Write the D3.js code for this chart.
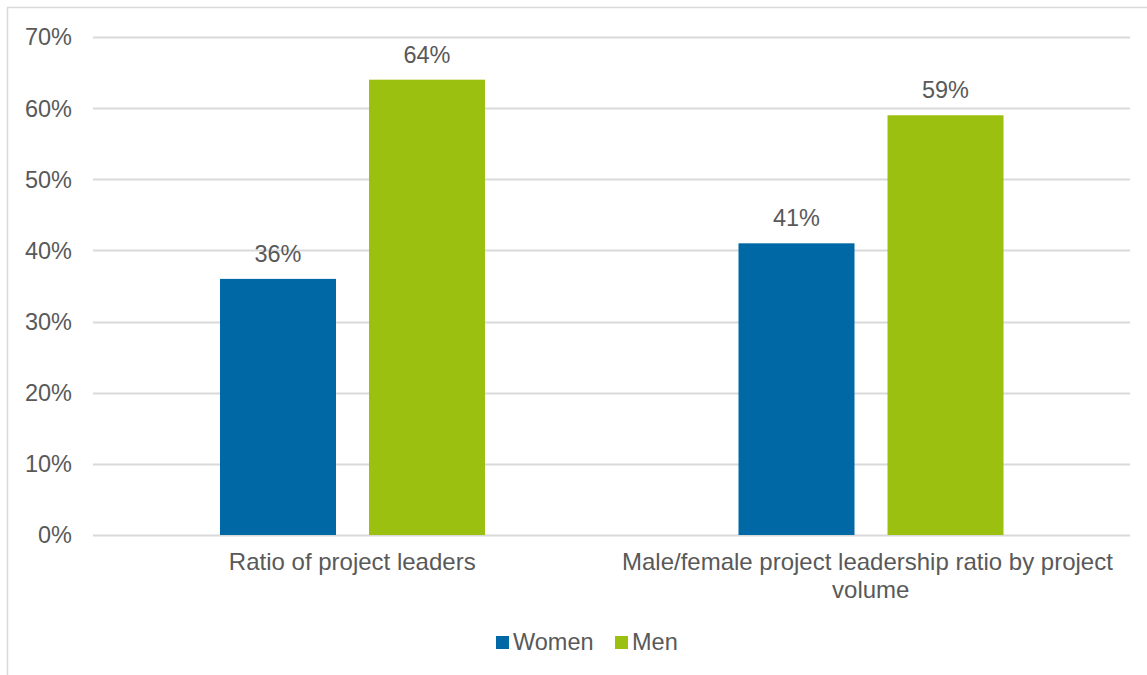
<!DOCTYPE html>
<html><head><meta charset="utf-8">
<script src="https://cdn.jsdelivr.net/npm/d3@7"></script>
<style>body{margin:0;background:#fff;} text{font-family:"Liberation Sans",Arial,sans-serif;fill:#595959;white-space:pre;}</style>
</head><body>
<svg id="c" width="1147" height="675"></svg>
<script>
const categories = ["Ratio of project leaders", "Male/female project leadership ratio by project volume"];
const categoryLines = [["Ratio of project leaders"], ["Male/female project leadership ratio by project ", "volume"]];
const series = ["Women", "Men"];
const women = [0.36, 0.41];
const men = [0.64, 0.59];
const yTicks = [0, 0.1, 0.2, 0.3, 0.4, 0.5, 0.6, 0.7];
const colors = ["#0069A5", "#9BC00F"];

(function () {
const svg = d3.select("#c");
const fs = 23.5;
svg.append("rect").attr("x",7.5).attr("y",7.5).attr("width",1160).attr("height",700)
  .attr("fill","none").attr("stroke","#D9D9D9").attr("stroke-width",1.5);

const pLeft = 93, pRight = 1130, pTop = 37, pBottom = 535;
const y = d3.scaleLinear().domain([0, 0.7]).range([pBottom, pTop]);
const x0 = d3.scaleBand().domain(categories).range([pLeft, pRight]).padding(0);
const x1 = d3.scaleBand().domain(series).range([127, 127+265]).paddingInner(0.2215).paddingOuter(0);

svg.append("g").selectAll("line").data(yTicks).join("line")
  .attr("x1", pLeft).attr("x2", pRight)
  .attr("y1", d => Math.round(y(d)) + 0.5).attr("y2", d => Math.round(y(d)) + 0.5)
  .attr("stroke", "#D9D9D9").attr("stroke-width", 2);

svg.append("g").selectAll("text").data(yTicks).join("text")
  .attr("x", 72).attr("y", d => y(d)).attr("dy", "0.36em")
  .attr("text-anchor", "end").attr("font-size", fs)
  .text(d => d3.format(".0%")(d));

const data = [];
categories.forEach((c, i) => {
  data.push({cat: c, s: "Women", v: women[i]});
  data.push({cat: c, s: "Men", v: men[i]});
});

svg.append("g").selectAll("rect").data(data).join("rect")
  .attr("x", d => x0(d.cat) + x1(d.s)).attr("width", x1.bandwidth())
  .attr("y", d => y(d.v)).attr("height", d => y(0) - y(d.v))
  .attr("fill", d => colors[series.indexOf(d.s)]);

svg.append("g").selectAll("text").data(data).join("text")
  .attr("x", d => x0(d.cat) + x1(d.s) + x1.bandwidth()/2)
  .attr("y", d => y(d.v) - 17)
  .attr("text-anchor", "middle").attr("font-size", fs)
  .text(d => d3.format(".0%")(d.v));

categories.forEach((c, i) => {
  const cx = x0(c) + x0.bandwidth()/2;
  const t = svg.append("text").attr("text-anchor", "middle").attr("font-size", 24).attr("x", cx);
  categoryLines[i].forEach((ln, j) => {
    t.append("tspan").attr("x", cx).attr("y", 570 + j*28).text(ln);
  });
});

const leg = svg.append("g");
const legX = [496, 615];
series.forEach((s, i) => {
  leg.append("rect").attr("x", legX[i]).attr("y", 636).attr("width", 13).attr("height", 13).attr("fill", colors[i]);
  leg.append("text").attr("x", legX[i] + 17).attr("y", 649.5).attr("font-size", fs).text(s);
});
})();
</script>
</body></html>
